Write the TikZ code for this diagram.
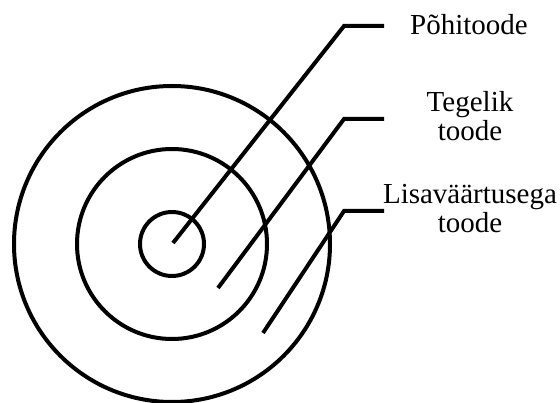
\documentclass[tikz,border=0pt]{standalone}
\usepackage{fontspec}
\setmainfont{Liberation Serif}
\begin{document}
\begin{tikzpicture}[x=1pt,y=-1pt,
  ring/.style={draw=black,line width=4pt},
  lead/.style={draw=black,line width=4pt},
  lbl/.style={font=\fontsize{29}{29}\selectfont,align=center,anchor=base,inner sep=0pt}]
\useasboundingbox (0,0) rectangle (560,403);
\coordinate (c) at (172,244);
\draw[ring] (c) circle (158);
\draw[ring] (c) circle (95);
\draw[ring] (c) circle (32);
% labels (anchor base = last line's baseline)
\node[lbl] (l1) at (469,35) {Põhitoode};
\node[lbl] (l2) at (470,141) {Tegelik\\toode};
\node[lbl] (l3) at (470,233) {Lisaväärtusega\\toode};
% leaders
\coordinate (a1) at (173,243);
\coordinate (b1) at (344,26);
\coordinate (e1) at (384,26);
\coordinate (a2) at (218,288);
\coordinate (b2) at (344,119);
\coordinate (e2) at (384,119);
\coordinate (a3) at (263,333);
\coordinate (b3) at (344,211);
\coordinate (e3) at (384,211);
\draw[lead] (a1) -- (b1) -- (e1);
\draw[lead] (a2) -- (b2) -- (e2);
\draw[lead] (a3) -- (b3) -- (e3);
\end{tikzpicture}
\end{document}
